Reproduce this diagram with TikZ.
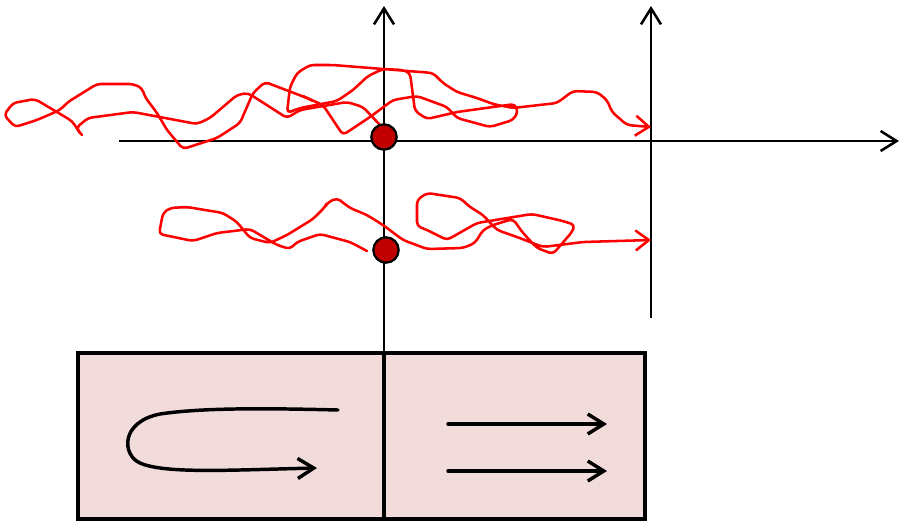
\documentclass[tikz,border=0pt]{standalone}
\usetikzlibrary{arrows.meta}
\definecolor{dotred}{HTML}{C00000}
\definecolor{boxpink}{HTML}{F2DCDB}
\definecolor{scribble}{HTML}{FF0000}
\begin{document}
\begin{tikzpicture}[x=0.75pt,y=-0.75pt,
  axis/.style={line width=1.9pt,black,-{Straight Barb[length=12pt,width=15pt,line width=1.9pt]}},
  path/.style={line width=1.9pt,scribble,rounded corners=3pt,line join=round,line cap=round},
  patharrow/.style={path,-{Straight Barb[length=10pt,width=15pt,line width=1.9pt]}},
  flow/.style={line width=2.6pt,black,line cap=round,-{Straight Barb[length=12pt,width=15pt,line width=2.6pt]}},
  dot/.style={circle,draw=black,line width=1.7pt,fill=dotred,minimum size=19pt,inner sep=0pt},
  panel/.style={draw=black,line width=2.7pt,fill=boxpink}]
\useasboundingbox (0,0) rectangle (901,522);
% coordinates
\coordinate (hxs) at (119,141);
\coordinate (hxe) at (899,141);
\coordinate (v1b) at (384,519);
\coordinate (v1t) at (384,6);
\coordinate (v2b) at (651,318);
\coordinate (v2t) at (651,6);
% box
\draw[panel] (78,353) rectangle (645,519);
\coordinate (divt) at (384,353);
\draw[line width=2.7pt] (v1b) -- (divt);
% axes
\draw[axis] (hxs) -- (hxe);
\draw[axis] (v1b) -- (v1t);
\draw[axis] (v2b) -- (v2t);
% upper scribble
\draw[path] (82,135) -- (76,128) -- (88,118) -- (133,112) -- (197,124) -- (210,118) -- (237,95) -- (248,93) -- (287,118) -- (300,110) -- (347,102) -- (363,107) -- (380,125);
\draw[patharrow] (80,133) -- (72,121) -- (35,99) -- (13,103) -- (4,115) -- (15,127) -- (37,120) -- (60,110) -- (68,102) -- (97,84) -- (133,84) -- (142,88) -- (145,97) -- (157,113) -- (167,130) -- (183,149) -- (217,138) -- (240,123) -- (253,93) -- (265,82) -- (307,98) -- (323,105) -- (343,135) -- (370,117) -- (393,100) -- (417,96) -- (447,107) -- (457,118) -- (490,127) -- (513,120) -- (518,112) -- (515,104) -- (457,112) -- (427,119) -- (415,111) -- (410,73) -- (403,70) -- (383,69) -- (368,76) -- (353,90) -- (337,101) -- (300,108) -- (287,113) -- (290,87) -- (297,73) -- (310,65) -- (333,65) -- (433,73) -- (443,83) -- (457,92) -- (477,98) -- (493,104) -- (513,108) -- (557,103) -- (573,91) -- (597,92) -- (607,100) -- (612,112) -- (627,125) -- (651,127);
\draw[path] (303,96) -- (313,101);
% lower scribble
\draw[patharrow] (367,251) -- (350,242) -- (320,234) -- (297,242) -- (290,249) -- (277,245) -- (250,229) -- (217,233) -- (193,241) -- (159,234) -- (163,213) -- (170,208) -- (187,207) -- (223,213) -- (237,222) -- (250,238) -- (270,243) -- (287,235) -- (313,219) -- (325,207) -- (327,203) -- (337,198) -- (350,208) -- (367,215) -- (383,225) -- (403,240) -- (427,249) -- (463,248) -- (475,243) -- (483,230) -- (493,225) -- (513,219) -- (523,233) -- (537,248) -- (553,254) -- (572,232) -- (575,225) -- (563,221) -- (532,214) -- (477,223) -- (447,240) -- (427,230) -- (417,226) -- (417,200) -- (427,193) -- (460,198) -- (470,207) -- (483,215) -- (497,230) -- (517,237) -- (543,247) -- (583,242) -- (651,240);
% dots
\node[dot] (d1) at (384,137) {};
\node[dot] (d2) at (386,250) {};
% flows in box
\coordinate (us) at (338,410);
\coordinate (ue) at (317,468);
\draw[flow] (us) .. controls (260,408) and (200,408) .. (160,414) .. controls (120,422) and (122,455) .. (140,463) .. controls (165,474) and (230,470) .. (ue);
\coordinate (r1s) at (448,424);
\coordinate (r1e) at (607,424);
\coordinate (r2s) at (448,471);
\coordinate (r2e) at (607,471);
\draw[flow] (r1s) -- (r1e);
\draw[flow] (r2s) -- (r2e);
\end{tikzpicture}
\end{document}
